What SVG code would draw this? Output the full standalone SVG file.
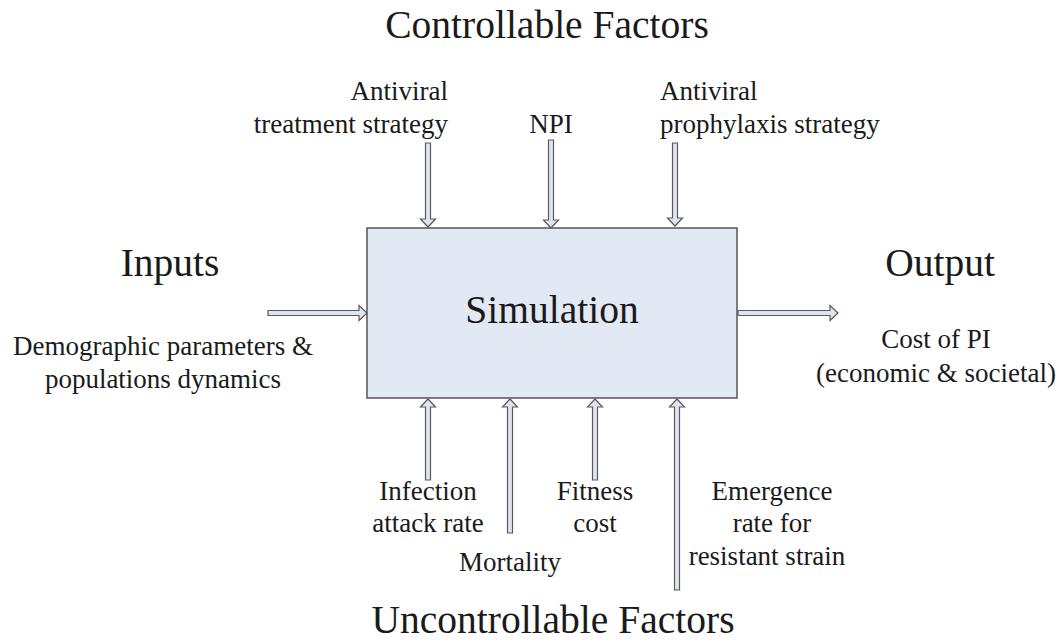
<svg xmlns="http://www.w3.org/2000/svg" width="1062" height="643" viewBox="0 0 1062 643">
<style>
.big{font-size:39.5px}
.sm{font-size:27px}
.mid{text-anchor:middle}
.arr{fill:#dde5f0;stroke:#5a5a5a;stroke-width:1.2;stroke-linejoin:miter}
</style>
<rect width="1062" height="643" fill="#ffffff"/>
<g font-family="Liberation Serif, Times New Roman, Times, serif" fill="#1a1a1a">
<g id="titles">
<text class="big mid" x="547" y="38">Controllable Factors</text>
<text class="big mid" x="553" y="633">Uncontrollable Factors</text>
<text class="big mid" x="170" y="276">Inputs</text>
<text class="big mid" x="940" y="276">Output</text>
</g>
<g id="simulation">
<rect x="367" y="228" width="370" height="170" fill="#e2e8f4" stroke="#555" stroke-width="1.5"/>
<text class="big mid" x="552" y="323">Simulation</text>
</g>
<g id="treatment"><text class="sm" text-anchor="end" x="448" y="100">Antiviral</text><text class="sm" text-anchor="end" x="448" y="133">treatment strategy</text></g>
<g id="npi"><text class="sm mid" x="551" y="133">NPI</text></g>
<g id="prophylaxis"><text class="sm" x="660" y="100">Antiviral</text><text class="sm" x="660" y="133">prophylaxis strategy</text></g>
<g id="demographic"><text class="sm mid" x="163" y="355">Demographic parameters &amp;</text><text class="sm mid" x="163" y="388">populations dynamics</text></g>
<g id="cost"><text class="sm mid" x="936" y="348">Cost of PI</text><text class="sm mid" x="936" y="382">(economic &amp; societal)</text></g>
<g id="infection"><text class="sm mid" x="428" y="500">Infection</text><text class="sm mid" x="428" y="532">attack rate</text></g>
<g id="mortality"><text class="sm mid" x="510" y="571">Mortality</text></g>
<g id="fitness"><text class="sm mid" x="595" y="500">Fitness</text><text class="sm mid" x="595" y="532">cost</text></g>
<g id="emergence"><text class="sm mid" x="772" y="500">Emergence</text><text class="sm mid" x="772" y="532">rate for</text><text class="sm mid" x="767" y="565">resistant strain</text></g>
</g>
<g id="connectors">
<polygon class="arr" points="425.5,143 430.5,143 430.5,219 435.5,219 428,227 420.5,219 425.5,219"/>
<polygon class="arr" points="548.5,140 553.5,140 553.5,220 558.5,220 551,228 543.5,220 548.5,220"/>
<polygon class="arr" points="672.5,143 677.5,143 677.5,218 682.5,218 675,226 667.5,218 672.5,218"/>
<polygon class="arr" points="425.5,480 430.5,480 430.5,407 435.5,407 428,399 420.5,407 425.5,407"/>
<polygon class="arr" points="507.5,533 512.5,533 512.5,407 517.5,407 510,399 502.5,407 507.5,407"/>
<polygon class="arr" points="592.5,480 597.5,480 597.5,407 602.5,407 595,399 587.5,407 592.5,407"/>
<polygon class="arr" points="674.5,590 679.5,590 679.5,407 684.5,407 677,399 669.5,407 674.5,407"/>
<polygon class="arr" points="268,310.5 359,310.5 359,305.5 367,313 359,320.5 359,315.5 268,315.5"/>
<polygon class="arr" points="738,310.5 830,310.5 830,305.5 838,313 830,320.5 830,315.5 738,315.5"/>
</g>
</svg>
